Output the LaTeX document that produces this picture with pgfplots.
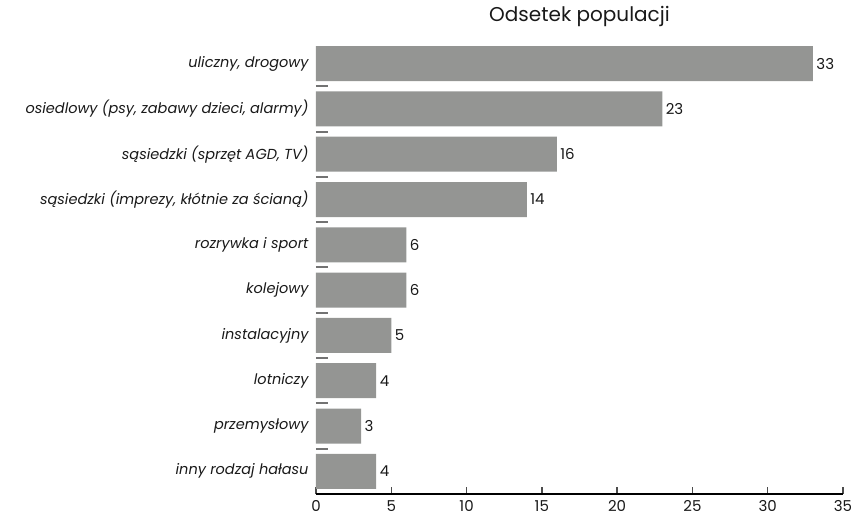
\documentclass[border=0pt]{standalone}
\usepackage{fontspec}
\setmainfont{Poppins}
\usepackage{pgfplots}
\pgfplotsset{compat=1.18}
\definecolor{barc}{RGB}{148,149,147}
\definecolor{txt}{RGB}{25,25,25}

\begin{document}
\begin{tikzpicture}
  \path[use as bounding box] (-316pt,-24pt) rectangle (535pt,494pt);
  \begin{axis}[
    xbar,
    scale only axis,
    width=527pt, height=453pt,
    xmin=0, xmax=35,
    ymin=-0.5, ymax=9.5,
    bar width=35pt,
    axis x line=bottom,
    axis y line=left,
    y axis line style={draw=none},
    x axis line style={black, line width=1.6pt, -},
    xtick align=inside,
    ytick align=inside,
    major tick length=7pt,
    x tick style={black!70, line width=1.4pt},
    y tick style={draw=none},
    xtick={0,5,...,35},
    ytick={0,...,9},
    yticklabels={{inny rodzaj hałasu},{przemysłowy},{lotniczy},{instalacyjny},{kolejowy},{rozrywka i sport},{sąsiedzki (imprezy, kłótnie za ścianą)},{sąsiedzki (sprzęt AGD, TV)},{osiedlowy (psy, zabawy dzieci, alarmy)},{uliczny, drogowy}},
    yticklabel style={font=\fontsize{14.5}{16}\selectfont\itshape, text=txt, xshift=-4pt},
    xticklabel style={font=\fontsize{15}{17}\selectfont, text=txt, yshift=-3pt},
    /pgf/number format/assume math mode=true,
    extra y ticks={0.5,1.5,...,8.5},
    extra y tick labels={},
    extra y tick style={major tick length=12pt, y tick style={draw=black!55, line width=2pt}},
    title={Odsetek populacji},
    title style={font=\fontsize{20}{22}\selectfont, text=txt, at={(0.5,1)}, anchor=south, yshift=5pt},
    nodes near coords,
    every node near coord/.append style={font=\fontsize{15}{17}\selectfont, text=txt, anchor=west, xshift=0pt},
  ]
    \addplot[draw=none, fill=barc] coordinates {
      (4,0) (3,1) (4,2) (5,3) (6,4) (6,5) (14,6) (16,7) (23,8) (33,9)
    };
  \end{axis}
\end{tikzpicture}
\end{document}
